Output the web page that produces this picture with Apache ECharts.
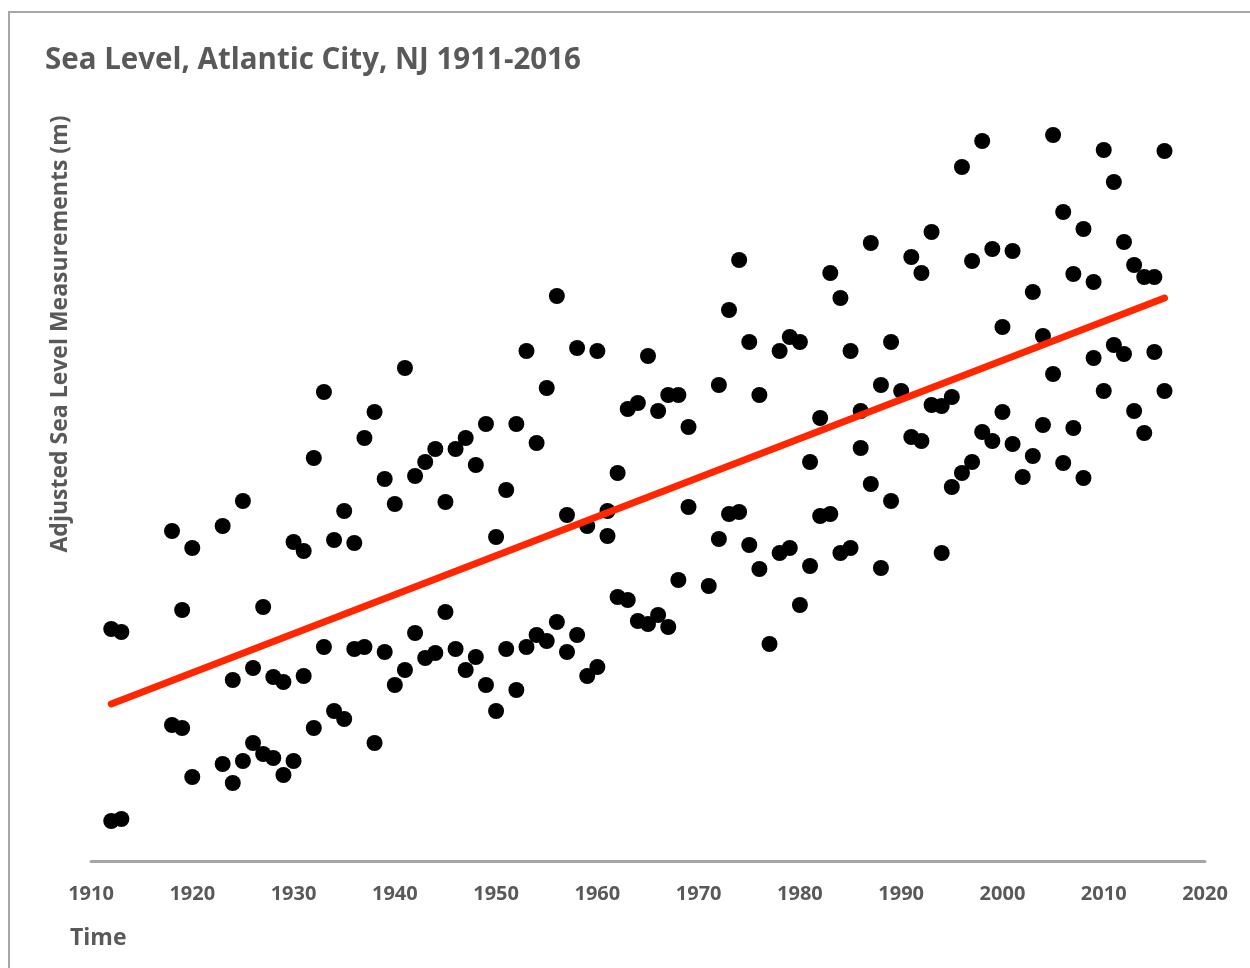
<!DOCTYPE html>
<html>
<head>
<meta charset="utf-8">
<title>Sea Level, Atlantic City, NJ 1911-2016</title>
<script src="https://cdn.jsdelivr.net/npm/echarts@6/dist/echarts.min.js"></script>
<style>
  html, body { margin: 0; padding: 0; background: #fff; }
  #frame {
    position: absolute; left: 8px; top: 11px; width: 1250px; height: 980px;
    border: 2px solid #a6a6a6; box-sizing: border-box;
  }
  #chart { position: absolute; left: 0; top: 0; width: 1250px; height: 968px; }
</style>
</head>
<body>
<div id="frame"></div>
<div id="chart"></div>
<script>
// 年份
const years = [1912, 1913, 1918, 1919, 1920, 1923, 1924, 1925, 1926, 1927, 1928, 1929, 1930,
  1931, 1932, 1933, 1934, 1935, 1936, 1937, 1938, 1939, 1940, 1941, 1942, 1943, 1944, 1945,
  1946, 1947, 1948, 1949, 1950, 1951, 1952, 1953, 1954, 1955, 1956, 1957, 1958, 1959, 1960,
  1961, 1962, 1963, 1964, 1965, 1966, 1967, 1968, 1969, 1971, 1972, 1973, 1974, 1975, 1976,
  1977, 1978, 1979, 1980, 1981, 1982, 1983, 1984, 1985, 1986, 1987, 1988, 1989, 1990, 1991,
  1992, 1993, 1994, 1995, 1996, 1997, 1998, 1999, 2000, 2001, 2002, 2003, 2004, 2005, 2006,
  2007, 2008, 2009, 2010, 2011, 2012, 2013, 2014, 2015, 2016];

// 每年第一组读数
const readingA = [2.32, 2.29, 3.30, 2.51, 3.13, 3.35, 1.81, 3.60, 1.93, 2.54, 1.84, 1.79, 3.19,
  3.10, 4.03, 4.69, 3.21, 3.50, 3.18, 4.23, 4.49, 3.82, 3.57, 4.93, 3.85, 3.99, 4.12, 3.59,
  4.12, 4.23, 3.96, 4.37, 3.24, 3.71, 4.37, 5.10, 4.18, 4.73, 5.65, 3.46, 5.13, 3.35, 5.10,
  3.50, 3.88, 4.52, 4.58, 5.05, 4.50, 4.66, 4.66, 4.34, 2.75, 4.76, 5.51, 6.01, 5.19, 4.66,
  2.17, 5.10, 5.24, 5.19, 3.99, 4.43, 5.88, 5.63, 5.10, 4.50, 6.18, 4.76, 5.19, 4.70, 6.04,
  5.88, 6.29, 4.55, 4.64, 6.94, 6.00, 7.20, 6.12, 5.34, 6.10, 3.84, 5.69, 5.25, 7.26, 6.49,
  5.87, 6.32, 5.79, 7.11, 6.79, 6.19, 5.96, 5.84, 5.84, 7.10];

// 每年第二组读数 (null = 无)
const readingB = [0.40, 0.42, 1.36, 1.33, 0.84, 0.97, 0.78, 1.00, 1.18, 1.07, 1.03, 0.86, 1.00,
  1.85, 1.33, 2.14, 1.50, 1.42, 2.12, 2.14, 1.18, 2.09, 1.76, 1.91, 2.28, 2.03, 2.08, 2.49,
  2.12, 1.91, 2.04, 1.76, 1.50, 2.12, 1.71, 2.14, 2.26, 2.20, 2.39, 2.09, 2.26, 1.85, 1.94,
  3.25, 2.64, 2.61, 2.40, 2.37, 2.46, 2.34, 2.81, 3.54, null, 3.22, 3.47, 3.49, 3.16, 2.92,
  null, 3.08, 3.13, 2.56, 2.95, 3.45, 3.47, 3.08, 3.13, 4.13, 3.77, 2.93, 3.60, null, 4.24,
  4.20, 4.56, 3.08, 3.74, 3.88, 3.99, 4.29, 4.20, 4.49, 4.17, null, 4.05, 4.36, 4.87, 3.98,
  4.33, 3.83, 5.03, 4.70, 5.16, 5.07, 4.50, 4.28, 5.09, 4.70];

// 趋势线端点
const trendYears = [1912, 2016];
const trendValues = [1.57, 5.63];

const xTicks = [1910, 2020];

const points = [];
years.forEach((yr, i) => {
  if (readingA[i] != null) points.push([yr, readingA[i]]);
  if (readingB[i] != null) points.push([yr, readingB[i]]);
});

const chart = echarts.init(document.getElementById('chart'));
const grayText = '#595959';
const font = '"Open Sans", sans-serif';

chart.setOption({
  animation: false,
  title: {
    text: 'Sea Level, Atlantic City, NJ 1911-2016',
    left: 40,
    top: 41,
    textStyle: { color: grayText, fontFamily: font, fontWeight: 'bold', fontSize: 29.5 }
  },
  grid: { left: 91, right: 45, top: 111, bottom: 107 },
  xAxis: {
    type: 'value',
    min: xTicks[0],
    max: xTicks[1],
    interval: 10,
    axisLine: { lineStyle: { color: '#a6a6a6', width: 3 } },
    axisTick: { show: false },
    splitLine: { show: false },
    axisLabel: {
      color: grayText, fontFamily: font, fontWeight: 'bold', fontSize: 20, margin: 23,
      formatter: (v) => String(v)
    }
  },
  yAxis: {
    type: 'value',
    min: 0,
    max: 7.5,
    axisLine: { show: false },
    axisTick: { show: false },
    axisLabel: { show: false },
    splitLine: { show: false }
  },
  graphic: [
    {
      type: 'text',
      x: 60, y: 334,
      rotation: Math.PI / 2,
      style: {
        text: 'Adjusted Sea Level Measurements (m)',
        fill: grayText, font: 'bold 23px ' + font,
        align: 'center', verticalAlign: 'middle'
      }
    },
    {
      type: 'text',
      x: 70, y: 938,
      style: {
        text: 'Time',
        fill: grayText, font: 'bold 23px ' + font,
        align: 'left', verticalAlign: 'middle'
      }
    }
  ],
  series: [
    {
      type: 'scatter',
      data: points,
      symbolSize: 16,
      itemStyle: { color: '#000', opacity: 1 },
      z: 2
    },
    {
      type: 'line',
      data: trendYears.map((yr, i) => [yr, trendValues[i]]),
      showSymbol: false,
      lineStyle: { color: '#ff2600', width: 7, cap: 'round' },
      z: 3
    }
  ]
});
</script>
</body>
</html>
